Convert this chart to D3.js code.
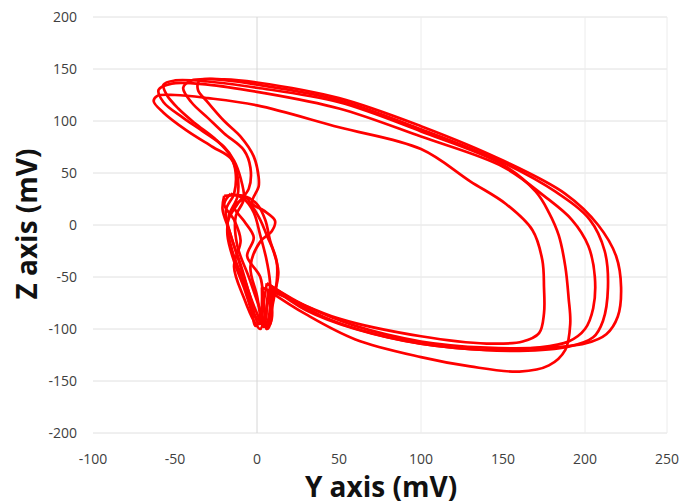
<!DOCTYPE html>
<html>
<head>
<meta charset="utf-8">
<script src="https://cdn.jsdelivr.net/npm/d3@7"></script>
<style>
  body { margin: 0; background: #fff; }
  svg { display: block; }
</style>
</head>
<body>
<svg id="chart"></svg>
<script>
// tick values
var xTicks = [-100, -50, 0, 50, 100, 150, 200, 250];
var yTicks = [-200, -150, -100, -50, 0, 50, 100, 150, 200];
var xGrid = [0, 100, 200, 250];

// five beats of the Y-Z loop, [Y mV, Z mV]
var loop1 = [[3,-60],[20,-71],[50,-90],[100,-107],[140,-114],[162,-112],[172,-104],[175,-85],[175,-60],[174,-34],[168,-5],[152,20],[130,42],[100,73],[50,94],[0,115],[-30,122],[-50,125],[-61,124],[-63,119],[-57,108],[-43,91],[-27,75],[-16,64],[-12,48],[-12,27],[-17,10],[-18,-10],[-14,-35],[-8,-60],[-3,-85],[-1,-97],[2,-92],[3,-75],[3,-60]];
var loop2 = [[7,-63],[30,-86],[60,-110],[100,-127],[130,-136],[160,-141],[178,-135],[188,-120],[191,-95],[190,-70],[188,-40],[184,-10],[178,12],[170,32],[150,58],[100,90],[50,118],[0,132],[-30,138],[-50,139],[-57,135],[-55,125],[-48,112],[-38,98],[-25,82],[-16,66],[-13,50],[-14,30],[-19,14],[-16,-10],[-10,-38],[-4,-70],[1,-95],[5,-92],[6,-75],[7,-63]];
var loop3 = [[9,-60],[30,-82],[60,-100],[100,-114],[140,-120],[170,-118],[190,-112],[200,-100],[205,-80],[206,-50],[202,-20],[192,5],[175,28],[150,56],[100,85],[50,112],[0,128],[-30,135],[-52,136],[-60,130],[-57,118],[-45,103],[-33,90],[-20,75],[-14,62],[-10,45],[-8,25],[-13,8],[-12,-20],[-5,-50],[2,-82],[6,-100],[9,-90],[9,-72],[9,-60]];
var loop4 = [[6,-56],[40,-88],[80,-108],[120,-118],[160,-121],[190,-117],[205,-108],[211,-92],[214,-60],[212,-25],[203,5],[182,32],[150,60],[100,92],[50,120],[0,135],[-25,140],[-40,139],[-45,132],[-40,118],[-30,103],[-20,88],[-8,72],[-4,55],[-5,35],[-12,20],[-18,2],[-15,-25],[-8,-55],[-2,-85],[2,-92],[4,-75],[6,-56]];
var loop5 = [[8,-58],[30,-78],[60,-97],[100,-112],[140,-118],[175,-118],[200,-114],[213,-105],[220,-88],[222,-60],[219,-30],[208,0],[188,30],[150,62],[100,95],[50,122],[0,137],[-20,140],[-35,139],[-36,130],[-30,118],[-20,100],[-10,85],[-2,66],[1,46],[1,37],[-3,21],[4,14],[11,4],[9,-6],[2,-16],[-4,-40],[0,-68],[4,-98],[7,-90],[8,-72],[8,-58]];
// noisy part around the origin
var clusterA = [[-20,28],[-21,15],[-17,-5],[-12,-30],[-6,-60],[0,-85],[4,-97],[8,-95],[9,-78],[12,-55],[12,-35],[8,-15],[5,5],[0,20],[-8,28],[-20,28]];
var clusterB = [[-16,30],[-20,20],[-14,5],[-10,-15],[-14,-40],[-8,-70],[-2,-92],[2,-100],[5,-85],[8,-60],[6,-35],[2,-10],[-2,12],[-8,25],[-16,30]];
var clusterC = [[-6,26],[-14,18],[-8,4],[-2,-12],[-6,-30],[2,-50],[4,-75],[6,-100],[8,-88],[11,-65],[13,-45],[10,-25],[6,-10],[2,5],[-6,26]];

var loops = [loop1, loop2, loop3, loop4, loop5, clusterA, clusterB, clusterC];

var w = 681, h = 504;
var svg = d3.select("#chart").attr("width", w).attr("height", h);

var x = d3.scaleLinear().domain([-100, 250]).range([93, 667]);
var y = d3.scaleLinear().domain([-200, 200]).range([433, 17]);

// gridlines
svg.append("g").selectAll("line.h")
  .data(yTicks).enter().append("line")
  .attr("x1", x(-100)).attr("x2", x(250))
  .attr("y1", function(d) { return y(d); })
  .attr("y2", function(d) { return y(d); })
  .attr("stroke", "#e0e0e0").attr("stroke-width", 1);

svg.append("g").selectAll("line.v")
  .data(xGrid).enter().append("line")
  .attr("y1", y(-200)).attr("y2", y(200))
  .attr("x1", function(d) { return x(d); })
  .attr("x2", function(d) { return x(d); })
  .attr("stroke", function(d) { return d == 0 ? "#d6d6d6" : "#ececec"; })
  .attr("stroke-width", 1);

// tick labels
svg.append("g").selectAll("text")
  .data(yTicks).enter().append("text")
  .attr("x", 77)
  .attr("y", function(d) { return y(d) + 5; })
  .attr("text-anchor", "end")
  .attr("font-family", "Open Sans, sans-serif")
  .attr("font-size", 14)
  .attr("fill", "#404040")
  .text(function(d) { return d; });

svg.append("g").selectAll("text")
  .data(xTicks).enter().append("text")
  .attr("x", function(d) { return x(d); })
  .attr("y", 464)
  .attr("text-anchor", "middle")
  .attr("font-family", "Open Sans, sans-serif")
  .attr("font-size", 14)
  .attr("fill", "#404040")
  .text(function(d) { return d; });

// loops
var line = d3.line()
  .x(function(d) { return x(d[0]); })
  .y(function(d) { return y(d[1]); })
  .curve(d3.curveCatmullRom.alpha(0.5));

svg.append("g").selectAll("path")
  .data(loops).enter().append("path")
  .attr("d", line)
  .attr("fill", "none")
  .attr("stroke", "#ff0000")
  .attr("stroke-width", 2.7)
  .attr("stroke-linejoin", "round");

// axis titles
svg.append("text")
  .attr("x", 381).attr("y", 497)
  .attr("text-anchor", "middle")
  .attr("font-family", "Open Sans, sans-serif")
  .attr("font-weight", "bold")
  .attr("font-size", 28)
  .attr("fill", "#111")
  .text("Y axis (mV)");

svg.append("text")
  .attr("transform", "translate(37,224) rotate(-90)")
  .attr("text-anchor", "middle")
  .attr("font-family", "Open Sans, sans-serif")
  .attr("font-weight", "bold")
  .attr("font-size", 28)
  .attr("fill", "#111")
  .text("Z axis (mV)");
</script>
</body>
</html>
